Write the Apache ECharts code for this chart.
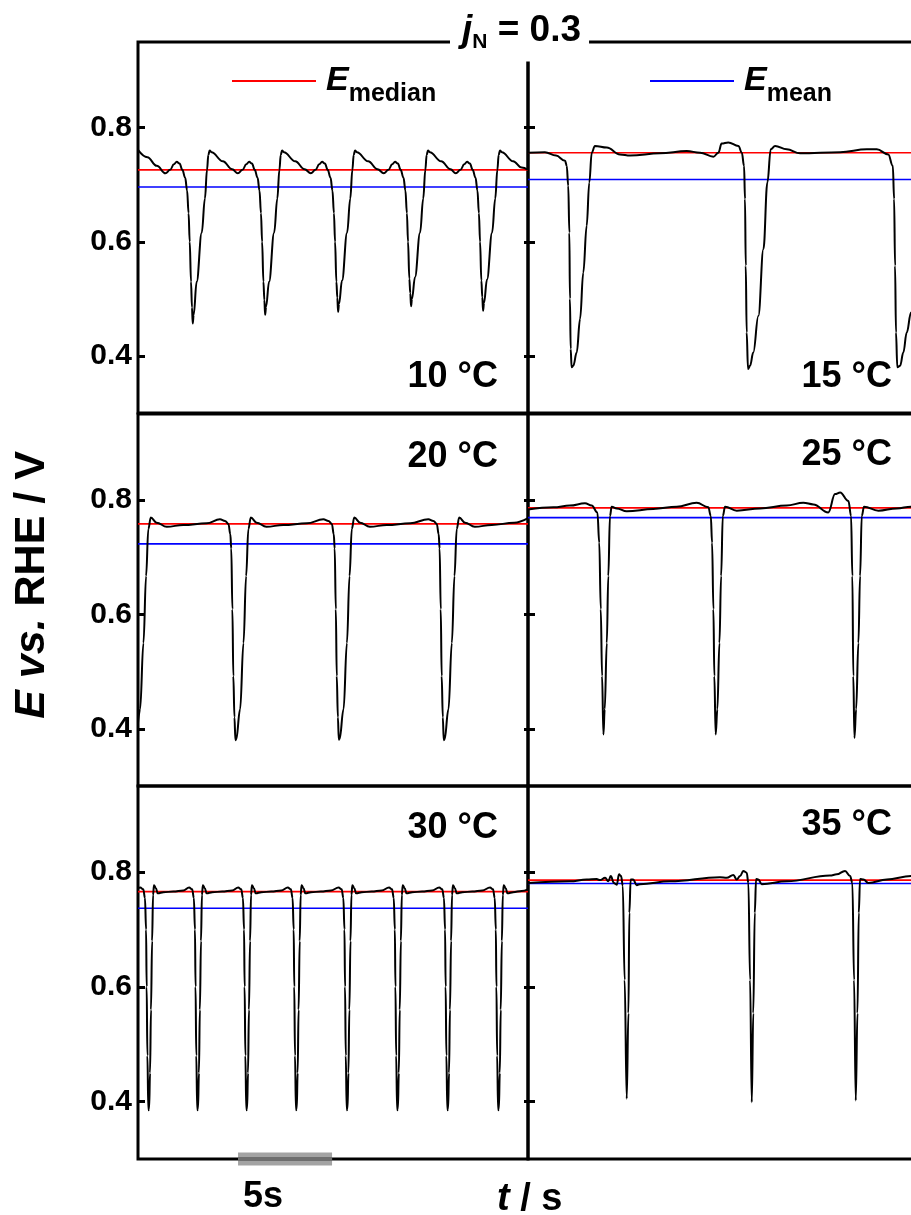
<!DOCTYPE html>
<html>
<head>
<meta charset="utf-8">
<script src="https://cdn.jsdelivr.net/npm/echarts@6/dist/echarts.min.js"></script>
<style>
  body { margin: 0; background: #fff; }
  #main { width: 911px; height: 1215px; }
</style>
</head>
<body>
<div id="main"></div>
<script>
// time in s, E in V vs. RHE
var p10 = [[0,0.761],[0.5,0.748],[1.0,0.733],[1.46,0.720],
  [1.71,0.726],[1.91,0.736],[2.06,0.740],[2.21,0.737],[2.36,0.726],[2.51,0.712],[2.61,0.690],[2.69,0.650],[2.75,0.600],[2.82,0.530],[2.87,0.485],[2.91,0.457],[2.96,0.472],[3.12,0.530],[3.39,0.616],[3.56,0.676],[3.67,0.726],[3.74,0.752],[3.81,0.760],[3.91,0.757],[4.51,0.741],[5.01,0.727],
  [5.31,0.720],[5.56,0.726],[5.76,0.736],[5.91,0.740],[6.06,0.737],[6.21,0.726],[6.36,0.712],[6.46,0.690],[6.54,0.650],[6.60,0.600],[6.67,0.530],[6.72,0.498],[6.76,0.472],[6.81,0.486],[6.97,0.530],[7.24,0.616],[7.41,0.676],[7.52,0.726],[7.59,0.752],[7.66,0.760],[7.76,0.757],[8.36,0.741],[8.86,0.727],
  [9.19,0.720],[9.44,0.726],[9.64,0.736],[9.79,0.740],[9.94,0.737],[10.09,0.726],[10.24,0.712],[10.34,0.690],[10.42,0.650],[10.48,0.600],[10.55,0.530],[10.60,0.502],[10.64,0.477],[10.69,0.491],[10.85,0.532],[11.12,0.616],[11.29,0.676],[11.40,0.726],[11.47,0.752],[11.54,0.760],[11.64,0.757],[12.24,0.741],[12.74,0.727],
  [13.07,0.720],[13.32,0.726],[13.52,0.736],[13.67,0.740],[13.82,0.737],[13.97,0.726],[14.12,0.712],[14.22,0.690],[14.30,0.650],[14.36,0.600],[14.43,0.535],[14.48,0.510],[14.52,0.487],[14.57,0.500],[14.73,0.538],[15.00,0.616],[15.17,0.676],[15.28,0.726],[15.35,0.752],[15.42,0.760],[15.52,0.757],[16.12,0.741],[16.62,0.727],
  [16.90,0.720],[17.15,0.726],[17.35,0.736],[17.50,0.740],[17.65,0.737],[17.80,0.726],[17.95,0.712],[18.05,0.690],[18.13,0.650],[18.19,0.600],[18.26,0.532],[18.31,0.503],[18.35,0.479],[18.40,0.493],[18.56,0.534],[18.83,0.616],[19.00,0.676],[19.11,0.726],[19.18,0.752],[19.25,0.760],[19.35,0.757],[19.95,0.741],[20.4,0.730],[20.74,0.726]];

var p15 = [[0,0.756],[0.90,0.757],[1.49,0.751],[1.97,0.742],[2.06,0.733],[2.14,0.698],[2.20,0.616],[2.23,0.50],[2.27,0.412],[2.32,0.380],[2.41,0.383],[2.59,0.406],[2.77,0.465],[2.94,0.546],[3.12,0.628],[3.26,0.704],[3.39,0.756],[3.56,0.768],[4.19,0.765],[4.89,0.753],[5.43,0.751],[7.02,0.755],[8.44,0.759],[9.15,0.756],[9.86,0.749],[10.12,0.756],[10.30,0.772],[10.65,0.774],[11.19,0.768],[11.37,0.756],[11.49,0.733],[11.54,0.675],[11.58,0.558],[11.63,0.441],[11.70,0.377],[11.81,0.383],[11.98,0.406],[12.25,0.470],[12.52,0.587],[12.73,0.704],[12.91,0.762],[13.14,0.768],[13.76,0.762],[14.47,0.755],[16.60,0.757],[18.02,0.762],[18.55,0.762],[19.16,0.753],[19.40,0.733],[19.47,0.675],[19.52,0.558],[19.57,0.441],[19.64,0.380],[19.79,0.383],[19.96,0.406],[20.14,0.441],[20.37,0.476],[20.74,0.56]];

var p20 = [[0,0.41],[0.11,0.434],[0.29,0.55],[0.43,0.667],[0.55,0.749],[0.68,0.769],[0.99,0.760],[1.53,0.753],[2.41,0.756],[3.65,0.759],
  [4.36,0.766],[4.63,0.763],[4.81,0.758],[4.91,0.740],[4.96,0.715],[5.02,0.609],[5.07,0.492],[5.13,0.420],[5.18,0.380],[5.22,0.381],[5.43,0.434],[5.61,0.550],[5.75,0.667],[5.87,0.749],[6.00,0.769],[6.31,0.760],[6.83,0.753],[7.73,0.756],[8.98,0.759],
  [9.86,0.766],[10.13,0.763],[10.31,0.758],[10.41,0.740],[10.46,0.715],[10.52,0.609],[10.57,0.492],[10.63,0.420],[10.68,0.381],[10.72,0.382],[10.93,0.434],[11.11,0.550],[11.25,0.667],[11.37,0.749],[11.50,0.769],[11.81,0.760],[12.33,0.753],[13.23,0.756],[14.48,0.759],
  [15.44,0.766],[15.71,0.763],[15.89,0.758],[15.99,0.740],[16.04,0.715],[16.10,0.609],[16.15,0.492],[16.21,0.420],[16.26,0.380],[16.30,0.381],[16.51,0.434],[16.69,0.550],[16.83,0.667],[16.95,0.749],[17.08,0.769],[17.39,0.760],[17.91,0.753],[18.81,0.756],[20.0,0.760],[20.74,0.768]];

var p25 = [[0,0.783],[1.35,0.787],[2.23,0.790],[3.03,0.794],[3.39,0.790],[3.69,0.778],[3.79,0.725],[3.87,0.609],[3.94,0.492],[4.01,0.390],[4.08,0.434],[4.19,0.550],[4.27,0.667],[4.36,0.772],[4.45,0.788],[4.72,0.785],[5.25,0.780],[6.66,0.784],[7.91,0.788],[8.97,0.795],[9.59,0.787],[9.72,0.772],[9.79,0.725],[9.86,0.609],[9.91,0.492],[9.98,0.390],[10.07,0.434],[10.18,0.550],[10.27,0.667],[10.36,0.772],[10.48,0.788],[11.10,0.781],[12.34,0.785],[13.76,0.790],[14.64,0.795],[15.18,0.792],[15.97,0.778],[16.33,0.810],[16.60,0.813],[17.04,0.798],[17.18,0.772],[17.25,0.667],[17.30,0.492],[17.36,0.384],[17.45,0.434],[17.57,0.550],[17.66,0.667],[17.75,0.772],[17.87,0.788],[18.63,0.781],[19.61,0.785],[20.37,0.788],[20.74,0.789]];

var p30 = [[0,0.772],[0.12,0.773],[0.28,0.770],[0.37,0.755],[0.43,0.70],[0.46,0.60],[0.50,0.48],[0.55,0.385],[0.59,0.387],[0.64,0.45],[0.69,0.56],[0.75,0.68],[0.80,0.76],[0.85,0.777],[0.95,0.772],[1.05,0.763],[1.35,0.765],[1.88,0.766],[2.41,0.768],
  [2.72,0.773],[2.88,0.770],[2.97,0.755],[3.03,0.70],[3.06,0.60],[3.10,0.48],[3.15,0.385],[3.19,0.387],[3.24,0.45],[3.29,0.56],[3.35,0.68],[3.40,0.76],[3.45,0.777],[3.55,0.772],[3.65,0.763],[3.95,0.765],[4.48,0.766],[5.01,0.768],
  [5.33,0.773],[5.49,0.770],[5.58,0.755],[5.64,0.70],[5.67,0.60],[5.71,0.48],[5.76,0.385],[5.80,0.387],[5.85,0.45],[5.90,0.56],[5.96,0.68],[6.01,0.76],[6.06,0.777],[6.16,0.772],[6.26,0.763],[6.56,0.765],[7.09,0.766],[7.62,0.768],
  [7.97,0.773],[8.13,0.770],[8.22,0.755],[8.28,0.70],[8.31,0.60],[8.35,0.48],[8.40,0.385],[8.44,0.387],[8.49,0.45],[8.54,0.56],[8.60,0.68],[8.65,0.76],[8.70,0.777],[8.80,0.772],[8.90,0.763],[9.20,0.765],[9.73,0.766],[10.26,0.768],
  [10.67,0.773],[10.83,0.770],[10.92,0.755],[10.98,0.70],[11.01,0.60],[11.05,0.48],[11.10,0.385],[11.14,0.387],[11.19,0.45],[11.24,0.56],[11.30,0.68],[11.35,0.76],[11.40,0.777],[11.50,0.772],[11.60,0.763],[11.90,0.765],[12.43,0.766],[12.96,0.768],
  [13.35,0.773],[13.51,0.770],[13.60,0.755],[13.66,0.70],[13.69,0.60],[13.73,0.48],[13.78,0.385],[13.82,0.387],[13.87,0.45],[13.92,0.56],[13.98,0.68],[14.03,0.76],[14.08,0.777],[14.18,0.772],[14.28,0.763],[14.58,0.765],[15.11,0.766],[15.64,0.768],
  [16.02,0.773],[16.18,0.770],[16.27,0.755],[16.33,0.70],[16.36,0.60],[16.40,0.48],[16.45,0.385],[16.49,0.387],[16.54,0.45],[16.59,0.56],[16.65,0.68],[16.70,0.76],[16.75,0.777],[16.85,0.772],[16.95,0.763],[17.25,0.765],[17.78,0.766],[18.31,0.768],
  [18.72,0.773],[18.88,0.770],[18.97,0.755],[19.03,0.70],[19.06,0.60],[19.10,0.48],[19.15,0.385],[19.19,0.387],[19.24,0.45],[19.29,0.56],[19.35,0.68],[19.40,0.76],[19.45,0.777],[19.55,0.772],[19.65,0.763],[19.95,0.765],[20.4,0.767],[20.74,0.770]];

var p35 = [[0,0.781],[2.23,0.784],[3.12,0.787],[3.65,0.788],[3.83,0.786],[4.10,0.790],[4.27,0.784],[4.40,0.793],[4.57,0.781],[4.72,0.778],[4.84,0.796],[4.95,0.793],[5.04,0.776],[5.14,0.612],[5.25,0.405],[5.34,0.554],[5.39,0.729],[5.46,0.787],[5.60,0.787],[5.78,0.777],[5.96,0.779],[7.55,0.784],[10.21,0.791],[10.57,0.790],[10.92,0.795],[11.10,0.787],[11.28,0.793],[11.45,0.802],[11.63,0.799],[11.72,0.781],[11.81,0.612],[11.90,0.399],[11.98,0.554],[12.06,0.729],[12.13,0.788],[12.25,0.787],[12.43,0.779],[13.76,0.784],[16.06,0.794],[16.42,0.796],[16.86,0.802],[17.13,0.793],[17.25,0.781],[17.34,0.612],[17.43,0.402],[17.52,0.554],[17.59,0.729],[17.66,0.788],[17.84,0.787],[18.10,0.781],[19.08,0.787],[20.37,0.793],[20.74,0.794]];

var panels = [p10, p15, p20, p25, p30, p35];
var tempLabels = ['10 °C', '15 °C', '20 °C', '25 °C', '30 °C', '35 °C'];
var medianVals = [0.726, 0.756, 0.758, 0.786, 0.766, 0.786];
var meanVals = [0.696, 0.709, 0.723, 0.769, 0.737, 0.780];
var yTicks = [0.4, 0.6, 0.8];
var scaleBarT = [5.32, 10.32]; // 5 s bar under the 30 °C panel
var xMax = 20.74;

var FONT = '"Liberation Sans", Arial, Helvetica, sans-serif';
var colLeft = [138, 528];
var rowTop = [42, 414, 786];
var rowHeight = [371, 372, 373];
var tempX = [498, 892];
var tempY = [377, 377, 457, 455, 828, 825];

var grids = [], xAxes = [], yAxes = [], series = [], graphics = [];
var yIndexOf = [];

panels.forEach(function (p, i) {
    var col = i % 2, row = Math.floor(i / 2);
    grids.push({
        left: colLeft[col], top: rowTop[row], width: 390, height: rowHeight[row],
        outerBoundsMode: 'none', containLabel: false,
        show: true, borderColor: '#000', borderWidth: 3, backgroundColor: 'transparent'
    });
    xAxes.push({ gridIndex: i, type: 'value', min: 0, max: xMax, show: false });
    yIndexOf.push(yAxes.length);
    yAxes.push({
        gridIndex: i, type: 'value', min: 0.3, max: 0.95, position: 'left',
        axisLine: { show: false },
        splitLine: { show: false },
        axisTick: { show: true, inside: true, length: 7, customValues: yTicks,
            lineStyle: { color: '#000', width: 3 } },
        axisLabel: { show: col === 0, customValues: yTicks, margin: 6,
            color: '#000', fontSize: 30, fontWeight: 'bold', fontFamily: FONT,
            formatter: function (v) { return v.toFixed(1); } }
    });
    if (col === 0) {
        yAxes.push({
            gridIndex: i, type: 'value', min: 0.3, max: 0.95, position: 'right',
            axisLine: { show: false },
            splitLine: { show: false },
            axisLabel: { show: false },
            axisTick: { show: true, inside: true, length: 4, customValues: yTicks,
                lineStyle: { color: '#000', width: 3 } }
        });
    }
    var yi = yIndexOf[i];
    series.push({
        name: 'median', type: 'line', xAxisIndex: i, yAxisIndex: yi,
        data: [[0, medianVals[i]], [xMax, medianVals[i]]],
        showSymbol: false, color: '#ff0000', lineStyle: { width: 1.6 }, z: 2
    });
    series.push({
        name: 'mean', type: 'line', xAxisIndex: i, yAxisIndex: yi,
        data: [[0, meanVals[i]], [xMax, meanVals[i]]],
        showSymbol: false, color: '#0000ff', lineStyle: { width: 1.6 }, z: 2
    });
    series.push({
        name: 'trace' + i, type: 'line', xAxisIndex: i, yAxisIndex: yi,
        data: p, showSymbol: false, smooth: 0.4, smoothMonotone: 'x',
        color: '#000', lineStyle: { width: 2 }, z: 3
    });
    graphics.push({
        type: 'text', x: tempX[col], y: tempY[i], z: 100,
        style: { text: tempLabels[i], fill: '#000', align: 'right', verticalAlign: 'middle',
            font: 'bold 36px ' + FONT }
    });
});

// 5 s scale bar, sitting on the bottom frame of the 30 °C panel
series.push({
    name: 'bar', type: 'line', xAxisIndex: 4, yAxisIndex: yIndexOf[4], clip: false,
    data: [[scaleBarT[0], 0.3], [scaleBarT[1], 0.3]], showSymbol: false,
    color: '#a3a3a3', lineStyle: { width: 13, cap: 'butt' }, z: 4
});
series.push({
    name: 'bar2', type: 'line', xAxisIndex: 4, yAxisIndex: yIndexOf[4], clip: false,
    data: [[scaleBarT[0], 0.3], [scaleBarT[1], 0.3]], showSymbol: false,
    color: '#6e6e6e', lineStyle: { width: 4, cap: 'butt' }, z: 5
});

// gap in the middle line under the title
graphics.push({ type: 'rect', z: 100, shape: { x: 525, y: 44.5, width: 7, height: 17 }, style: { fill: '#fff' } });
graphics.push({
    type: 'text', x: 32, y: 585, rotation: Math.PI / 2, z: 100,
    style: {
        text: '{i|E vs.}{n| RHE / V}', align: 'center', verticalAlign: 'middle',
        rich: {
            i: { fontSize: 43, fontWeight: 'bold', fontStyle: 'italic', fontFamily: FONT, fill: '#000' },
            n: { fontSize: 43, fontWeight: 'bold', fontFamily: FONT, fill: '#000' }
        }
    }
});
graphics.push({
    type: 'text', x: 243, y: 1197, z: 100,
    style: { text: '5s', fill: '#000', verticalAlign: 'middle', font: 'bold 36px ' + FONT }
});
graphics.push({
    type: 'text', x: 497, y: 1200, z: 100,
    style: {
        text: '{i|t}{n| / s}', verticalAlign: 'middle',
        rich: {
            i: { fontSize: 38, fontWeight: 'bold', fontStyle: 'italic', fontFamily: FONT, fill: '#000' },
            n: { fontSize: 38, fontWeight: 'bold', fontFamily: FONT, fill: '#000' }
        }
    }
});

var legendRich = {
    e: { fontSize: 34, fontWeight: 'bold', fontStyle: 'italic', fontFamily: FONT, color: '#000', padding: [0, 0, 0, 5] },
    s: { fontSize: 25, fontWeight: 'bold', fontFamily: FONT, color: '#000', padding: [26, 0, 0, 0] }
};
function legendFmt(name) { return '{e|E}{s|' + name + '}'; }

var myChart = echarts.init(document.getElementById('main'));
myChart.setOption({
    animation: false,
    title: {
        text: '{it|j}{sub|N}{n| = 0.3}',
        left: 450, top: 8,
        padding: [0, 8, 0, 12],
        backgroundColor: '#fff',
        textStyle: {
            rich: {
                it: { fontSize: 37, fontWeight: 'bold', fontStyle: 'italic', fontFamily: FONT, color: '#000' },
                sub: { fontSize: 21, fontWeight: 'bold', fontFamily: FONT, color: '#000', padding: [24, 0, 0, 0] },
                n: { fontSize: 37, fontWeight: 'bold', fontFamily: FONT, color: '#000' }
            }
        }
    },
    legend: [
        { data: ['median'], left: 232, top: 64, padding: 0, icon: 'rect', itemWidth: 84, itemHeight: 2,
          formatter: legendFmt, textStyle: { rich: legendRich } },
        { data: ['mean'], left: 650, top: 64, padding: 0, icon: 'rect', itemWidth: 84, itemHeight: 2,
          formatter: legendFmt, textStyle: { rich: legendRich } }
    ],
    grid: grids,
    xAxis: xAxes,
    yAxis: yAxes,
    series: series,
    graphic: graphics
});
</script>
</body>
</html>
